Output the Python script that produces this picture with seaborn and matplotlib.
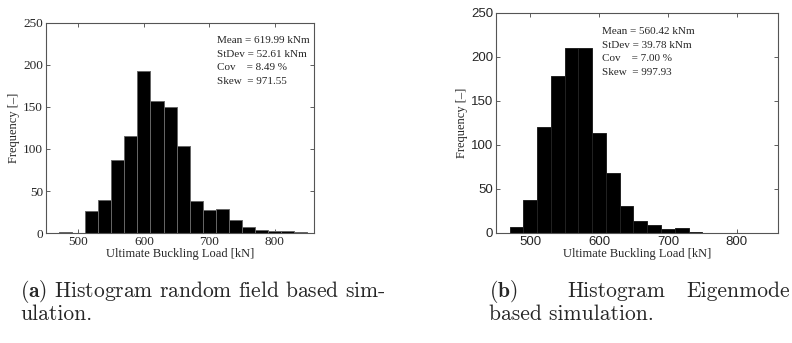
import numpy as np
import pandas as pd
import matplotlib.pyplot as plt
import seaborn as sns

sns.set_style("ticks")
plt.rcParams['font.family'] = ['Liberation Serif', 'DejaVu Serif']
plt.rcParams['xtick.direction'] = 'in'
plt.rcParams['ytick.direction'] = 'in'
plt.rcParams['mathtext.fontset'] = 'cm'

# bin edges (20 kN wide) shared by both histograms
bin_edges = list(range(470, 851, 20))
bin_centers = [e + 10 for e in bin_edges[:-1]]

# (a) random field based simulation
counts_rf = [1, 0, 26, 40, 87, 116, 192, 157, 150, 103, 38, 27, 29, 16, 8, 4, 3, 3, 2]
stats_rf = ["Mean = 619.99 kNm", "StDev = 52.61 kNm", "Cov    = 8.49 %", "Skew  = 971.55"]

# (b) Eigenmode based simulation
counts_eig = [7, 37, 120, 178, 210, 210, 113, 68, 30, 13, 9, 4, 5, 1, 0, 0, 0, 0, 0]
stats_eig = ["Mean = 560.42 kNm", "StDev = 39.78 kNm", "Cov    = 7.00 %", "Skew  = 997.93"]

yticks = [0, 50, 100, 150, 200, 250]
xticks = [500, 600, 700, 800]

fig = plt.figure(figsize=(7.92, 3.43), dpi=100)
ax1 = fig.add_axes([0.0577, 0.320, 0.3388, 0.614])
ax2 = fig.add_axes([0.626, 0.321, 0.3564, 0.642])


def draw_hist(ax, counts, stats, tick_font, edge, text_x, text_y):
    df = pd.DataFrame({'load': bin_centers, 'count': counts})
    sns.histplot(data=df, x='load', weights='count', bins=bin_edges, ax=ax,
                 color='black', edgecolor=edge, linewidth=0.7, alpha=1)
    ax.set_xlim(450, 860)
    ax.set_ylim(0, 250)
    ax.set_xticks(xticks)
    ax.set_yticks(yticks)
    ax.tick_params(top=True, right=True, length=3, width=0.6, pad=2,
                   labelsize=9.5, color='#444444')
    for lab in ax.get_xticklabels() + ax.get_yticklabels():
        lab.set_family(tick_font)
    for sp in ax.spines.values():
        sp.set_color('#555555')
        sp.set_linewidth(0.8)
    ax.set_xlabel('Ultimate Buckling Load [kN]', fontsize=9, labelpad=0)
    ax.set_ylabel('Frequency [\u2013]', fontsize=9, labelpad=2)
    for i, s in enumerate(stats):
        fig.text(text_x, text_y - i * 0.0395, s, fontsize=8, va='top', ha='left')


draw_hist(ax1, counts_rf, stats_rf, 'Liberation Serif', '#666666', 217 / 792, 1 - 36 / 343)
draw_hist(ax2, counts_eig, stats_eig, 'Liberation Sans', '#222222', 602 / 792, 1 - 27 / 343)

# captions
cap = dict(fontsize=15.5, family='cmr10', va='baseline', ha='left')
fig.text(20 / 792, 1 - 297 / 343, r'$\mathbf{(a)}$ Histogram random field based sim-', **cap)
fig.text(20 / 792, 1 - 320 / 343, 'ulation.', **cap)
fig.text(489 / 792, 1 - 297 / 343, r'$\mathbf{(b)}$', **cap)
fig.text(567 / 792, 1 - 297 / 343, 'Histogram', **cap)
fig.text(790 / 792, 1 - 297 / 343, 'Eigenmode', **{**cap, 'ha': 'right'})
fig.text(489 / 792, 1 - 320 / 343, 'based simulation.', **cap)

fig.savefig('out.png', dpi=100)
